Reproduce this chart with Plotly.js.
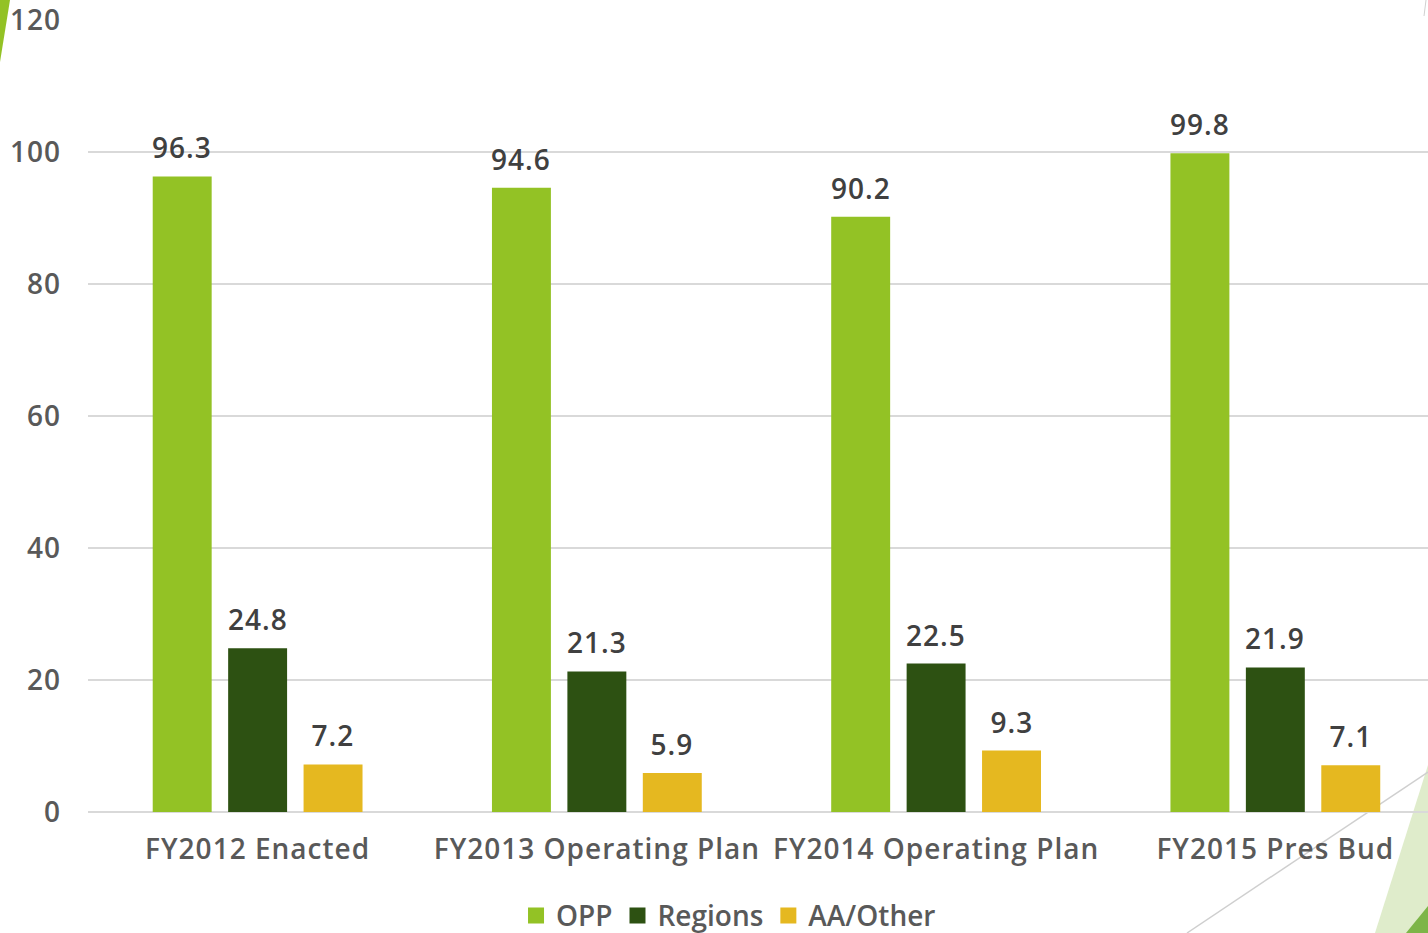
<!DOCTYPE html>
<html>
<head>
<meta charset="utf-8">
<script src="https://cdn.plot.ly/plotly-3.0.1.min.js"></script>
<style>
html,body{margin:0;padding:0;background:#fff;overflow:hidden;}
#chart{width:1428px;height:933px;}
#chart .xtick text, #chart .ytick text, #chart .annotation-text{letter-spacing:1px;}
#chart .legendtext{letter-spacing:0px;}
</style>
</head>
<body>
<div id="chart"></div>
<script>
const categories = ["FY2012 Enacted", "FY2013 Operating Plan", "FY2014 Operating Plan", "FY2015 Pres Bud"];
const seriesNames = ["OPP", "Regions", "AA/Other"];
const oppValues = [96.3, 94.6, 90.2, 99.8];
const regionsValues = [24.8, 21.3, 22.5, 21.9];
const aaOtherValues = [7.2, 5.9, 9.3, 7.1];
const yTickValues = [0, 20, 40, 60, 80, 100, 120];

const seriesValues = [oppValues, regionsValues, aaOtherValues];
const colors = ["#93c225", "#2d5112", "#e5b820"];
const labelShift = [-75.5, 0, 75.5];
const FONT = "Open Sans, DejaVu Sans, sans-serif";
const W = 600;
const FS = 28;

const barTraces = seriesValues.map((vals, i) => ({
  type: "bar",
  name: seriesNames[i],
  x: categories,
  y: vals,
  marker: {color: colors[i]},
  showlegend: false,
  hoverinfo: "x+y+name"
}));

// legend entries with larger square swatches
const legendTraces = seriesNames.map((n, i) => ({
  type: "scatter", mode: "markers", name: n,
  x: [null], y: [null],
  marker: {symbol: "square", size: 16, color: colors[i]},
  showlegend: true, hoverinfo: "skip"
}));

const annotations = [];
seriesValues.forEach((vals, i) => {
  vals.forEach((v, j) => {
    annotations.push({
      x: categories[j], y: v, xref: "x", yref: "y",
      text: v.toFixed(1), showarrow: false,
      yanchor: "bottom", xanchor: "center",
      xshift: labelShift[i], yshift: 8,
      font: {family: FONT, size: FS, color: "#404040", weight: W}
    });
  });
});

// paper-coordinate helpers (plot area 88..1428 x, 20..812 y)
const px = v => (v - 88) / 1340;
const py = v => (812 - v) / 792;

const shapes = [
  {type: "path", xref: "paper", yref: "paper", layer: "above",
   path: `M ${px(0)} ${py(0)} L ${px(10)} ${py(0)} L ${px(0)} ${py(62)} Z`,
   fillcolor: "#93c225", line: {width: 0}},
  {type: "path", xref: "paper", yref: "paper", layer: "below",
   path: `M ${px(1428)} ${py(765)} L ${px(1428)} ${py(933)} L ${px(1375)} ${py(933)} Z`,
   fillcolor: "#dfeccb", line: {width: 0}},
  {type: "path", xref: "paper", yref: "paper", layer: "below",
   path: `M ${px(1428)} ${py(906)} L ${px(1428)} ${py(933)} L ${px(1406)} ${py(933)} Z`,
   fillcolor: "#7db548", line: {width: 0}},
  {type: "line", xref: "paper", yref: "paper", layer: "below",
   x0: px(1428), y0: py(772), x1: px(1187), y1: py(933),
   line: {color: "#cfcfcf", width: 1.5}},
  {type: "line", xref: "paper", yref: "paper", layer: "below",
   x0: px(1426), y0: py(0), x1: px(1424), y1: py(16),
   line: {color: "#d0d0d0", width: 1}}
];

const layout = {
  width: 1428, height: 933,
  margin: {l: 88, r: 0, t: 20, b: 121, pad: 0, autoexpand: false},
  paper_bgcolor: "#ffffff", plot_bgcolor: "#ffffff",
  font: {family: FONT, size: FS, color: "#595959", weight: W},
  barmode: "group",
  bargap: 0.333,
  bargroupgap: 0.2185,
  showlegend: true,
  legend: {orientation: "h", x: 0.478, xanchor: "center", y: -0.131, yanchor: "middle",
           font: {family: FONT, size: FS, color: "#595959", weight: W},
           itemwidth: 30, itemsizing: "trace", tracegroupgap: 0},
  xaxis: {
    type: "category", range: [-0.5, 3.45],
    showgrid: false, zeroline: false, showline: false,
    ticks: "", ticklabelstandoff: 18, automargin: false,
    ticklabeloverflow: "allow",
    tickfont: {family: FONT, size: FS, color: "#595959", weight: W},
    fixedrange: true
  },
  yaxis: {
    range: [0, 120], tickvals: yTickValues,
    showgrid: true, gridcolor: "#d9d9d9", gridwidth: 2,
    zeroline: true, zerolinecolor: "#d9d9d9", zerolinewidth: 2,
    showline: false, ticks: "", ticklabelstandoff: 26, automargin: false,
    ticklabeloverflow: "allow",
    tickfont: {family: FONT, size: FS, color: "#595959", weight: W},
    fixedrange: true
  },
  annotations: annotations,
  shapes: shapes
};

Plotly.newPlot("chart", barTraces.concat(legendTraces), layout, {displayModeBar: false, staticPlot: false});
</script>
</body>
</html>
